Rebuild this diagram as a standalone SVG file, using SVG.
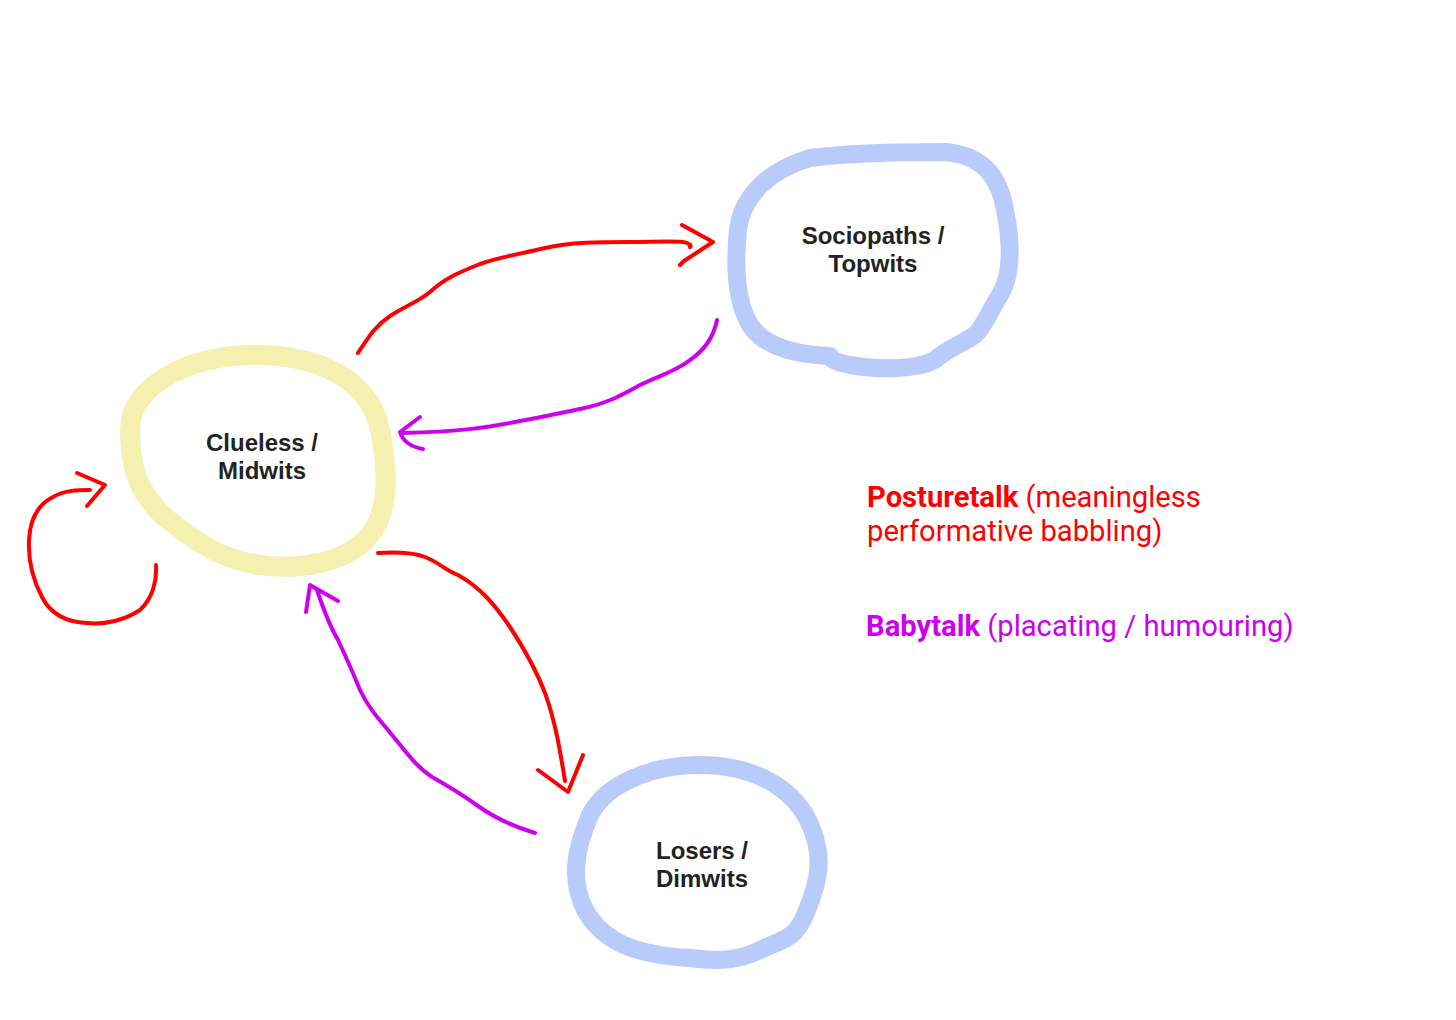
<svg xmlns="http://www.w3.org/2000/svg" width="1456" height="1020" viewBox="0 0 1456 1020">
<style>
.blue{fill:none;stroke:#b8cbfb;stroke-width:18;stroke-linecap:round;stroke-linejoin:round}
.yellow{fill:none;stroke:#f4f0b0;stroke-width:20;stroke-linecap:round;stroke-linejoin:round}
.lbl{font-family:"Liberation Sans",Arial,sans-serif;font-weight:bold;font-size:24px;fill:#222;text-anchor:middle}
.red{fill:none;stroke:#ff0000;stroke-width:4;stroke-linecap:round;stroke-linejoin:round}
.pur{fill:none;stroke:#cc00ee;stroke-width:4;stroke-linecap:round;stroke-linejoin:round}
.leg{font-family:Roboto,"Liberation Sans",sans-serif;font-size:29.2px}
</style>
<rect width="1456" height="1020" fill="#fff"/>
<g id="sociopaths">
<path class="blue" d="M 830,356 C 800,355 765,348 750,325 C 735,300 735,260 738,230 C 742,195 770,170 810,158 C 850,153 900,152 945,152 C 985,155 1000,180 1005,210 C 1012,245 1012,275 1000,295 C 990,310 985,325 975,335 C 960,345 945,350 935,360 C 915,370 880,370 850,365 C 840,363 830,360 830,356 Z"/>
<text class="lbl" x="873" y="244">Sociopaths /</text>
<text class="lbl" x="873" y="272">Topwits</text>
</g>
<g id="clueless">
<path class="yellow" d="M 255,355 C 320,355 370,380 380,430 C 388,470 390,510 370,535 C 345,565 295,570 260,565 C 225,560 200,545 175,525 C 140,500 130,470 130,430 C 130,385 190,355 255,355 Z"/>
<text class="lbl" x="262" y="451">Clueless /</text>
<text class="lbl" x="262" y="479">Midwits</text>
</g>
<g id="losers">
<path class="blue" d="M 700,765 C 750,765 790,785 808,820 C 825,855 820,880 805,915 C 795,940 780,940 760,950 C 740,960 720,962 690,958 C 640,955 605,945 585,910 C 570,880 575,850 590,815 C 605,785 650,765 700,765 Z"/>
<text class="lbl" x="702" y="859">Losers /</text>
<text class="lbl" x="702" y="887">Dimwits</text>
</g>
<g id="connectors">
<path class="red" d="M 358,353 C 368,338 375,326 390,316 C 405,306 418,302 430,292 C 445,278 460,272 480,264 C 500,257 520,254 545,248 C 570,242 600,242 630,242 C 650,242 670,241 683,242 C 690,243 692,246 690,247"/>
<path class="red" d="M 682,225 L 713,242 L 684,261 L 680,265"/>
<path class="pur" d="M 717,320 C 714,335 705,350 690,360 C 675,372 660,375 640,385 C 625,393 610,403 580,409 C 560,413 543,417 520,421 C 490,427 460,432 403,433"/>
<path class="pur" d="M 420,417 L 400,432 C 403,442 412,447 423,449"/>
<path class="red" d="M 378,553 C 395,552 412,552 425,557 C 440,563 445,570 458,575 C 480,587 495,605 510,627 C 525,650 537,672 545,693 C 555,720 560,750 565,781"/>
<path class="red" d="M 538,770 L 568,792 L 583,755"/>
<path class="pur" d="M 535,833 C 515,827 495,818 478,806 C 460,793 450,787 432,777 C 415,766 403,748 388,730 C 378,718 368,707 360,690 C 352,670 345,655 338,640 C 328,623 322,605 317,590"/>
<path class="pur" d="M 306,612 L 310,585 L 338,601"/>
<path class="red" d="M 156,565 C 157,580 153,598 140,610 C 125,620 105,625 87,623 C 65,622 50,613 42,597 C 32,578 28,560 29,540 C 30,520 37,505 53,497 C 65,490 78,490 90,490"/>
<path class="red" d="M 77,473 L 105,485 L 87,506"/>
</g>
<g id="legend">
<text class="leg" x="867" y="507" fill="#ff0000"><tspan font-weight="bold">Posturetalk</tspan> (meaningless</text>
<text class="leg" x="867" y="541" fill="#ff0000">performative babbling)</text>
<text class="leg" x="866" y="636" fill="#cc00ee"><tspan font-weight="bold">Babytalk</tspan> (placating / humouring)</text>
</g>
</svg>
